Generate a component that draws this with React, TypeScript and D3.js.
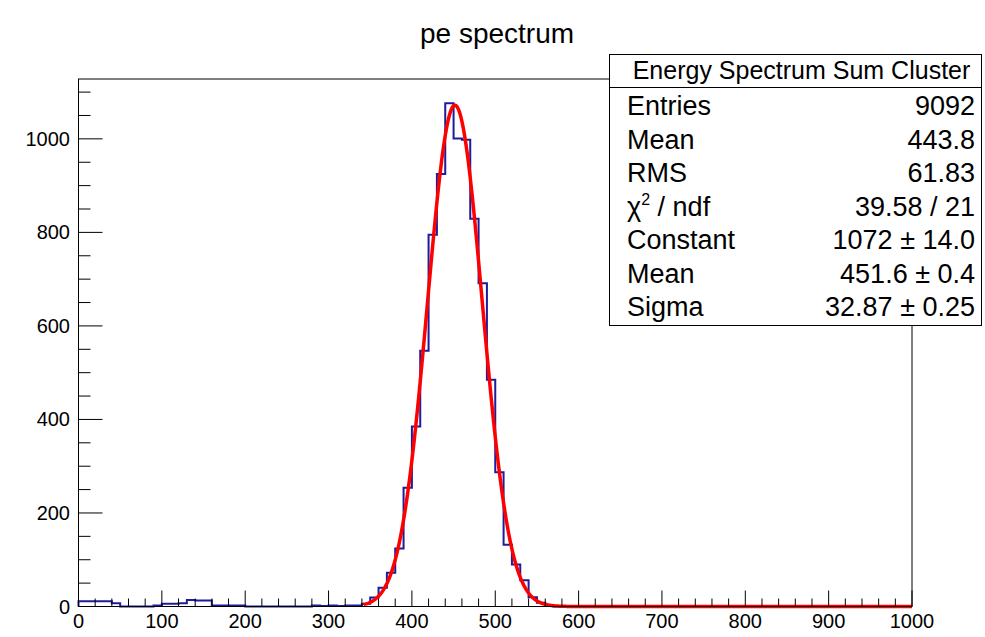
import React from "react";
import * as d3 from "d3";

// ---- data ----
const binWidth = 10;
// counts of 100 bins, 0..1000
const binCounts: number[] = [
  11, 11, 11, 11, 7, 0, 0, 0, 0, 2, // 0-100
  6, 6, 7, 14, 13, 13, 2, 2, 2, 2, // 100-200
  0, 0, 0, 0, 0, 0, 0, 0, 2, 1, // 200-300
  2, 1, 2, 2, 6, 19, 40, 72, 124, 254, // 300-400
  385, 547, 795, 925, 1076, 1001, 998, 829, 691, 485, // 400-500
  287, 132, 90, 56, 20, 8, 2, 0, 0, 0, // 500-600
  0, 0, 0, 0, 0, 0, 0, 0, 0, 0,
  0, 0, 0, 0, 0, 0, 0, 0, 0, 0,
  0, 0, 0, 0, 0, 0, 0, 0, 0, 0,
  0, 0, 0, 0, 0, 0, 0, 0, 0, 0,
];
const fitConstant = 1072;
const fitMean = 451.6;
const fitSigma = 32.87;
const fitRange = [342, 1000];

const xTicks = [0, 100, 200, 300, 400, 500, 600, 700, 800, 900, 1000];
const yTicks = [0, 200, 400, 600, 800, 1000];

const statsTitle = "Energy Spectrum Sum Cluster";
const statsLabels = ["Entries", "Mean", "RMS", "CHI", "Constant", "Mean", "Sigma"];
const statsValues = ["9092", "443.8", "61.83", "39.58 / 21", "1072 \u00b1 14.0", "451.6 \u00b1 0.4", "32.87 \u00b1 0.25"];

const W = 985;
const H = 637;
const L = 78.5, R = 912, T = 79, B = 606.5;

export default function App() {
  const x = d3.scaleLinear().domain([0, 1000]).range([L, R]);
  const y = d3.scaleLinear().domain([0, 1128]).range([B, T]);

  const pts: [number, number][] = [[0, 0]];
  binCounts.forEach((c, i) => {
    pts.push([i * binWidth, c]);
    pts.push([(i + 1) * binWidth, c]);
  });
  pts.push([1000, 0]);
  const histPath = d3.line<[number, number]>().x((d) => x(d[0])).y((d) => y(d[1]))(pts) || "";

  const fitPts: [number, number][] = d3.range(fitRange[0], fitRange[1] + 0.5, 1).map((v) => [
    v,
    fitConstant * Math.exp(-0.5 * Math.pow((v - fitMean) / fitSigma, 2)),
  ]);
  const fitLine = d3.line<[number, number]>().x((d) => x(d[0])).y((d) => y(d[1]))(fitPts) || "";

  const xMinor = d3.range(0, 1001, 20).filter((v) => v % 100 !== 0);
  const yMinor = d3.range(0, 1128, 50).filter((v) => v % 200 !== 0);

  const font = "'Liberation Sans', Arial, Helvetica, sans-serif";
  const bx0 = 609.5, bx1 = 981.5, by0 = 54.5, by1 = 325.5, bsep = 87.5;
  const rowBase = [115, 148.5, 182, 215.5, 249, 282.5, 316];

  return (
    <svg width={W} height={H} style={{ position: "absolute", left: 0, top: 0, background: "#fff" }} fontFamily={font}>
      <rect x={0} y={0} width={W} height={H} fill="#fff" />
      <text x={497} y={43} fontSize={28} textAnchor="middle" fill="#000">pe spectrum</text>

      <path d={histPath} fill="none" stroke="#1c1c9c" strokeWidth={2} />
      <path d={fitLine} fill="none" stroke="#ff0000" strokeWidth={3.5} strokeLinejoin="round" />

      {/* frame */}
      <rect x={L} y={T} width={R - L} height={B - T} fill="none" stroke="#000" strokeWidth={1} />

      {/* x axis ticks */}
      {xTicks.map((v) => (
        <g key={"xt" + v}>
          <line x1={x(v)} x2={x(v)} y1={B} y2={B - 16} stroke="#000" strokeWidth={1} />
          <text x={x(v)} y={628} fontSize={20} textAnchor="middle" fill="#000">{v}</text>
        </g>
      ))}
      {xMinor.map((v) => (
        <line key={"xm" + v} x1={x(v)} x2={x(v)} y1={B} y2={B - 8} stroke="#000" strokeWidth={1} />
      ))}
      {/* y axis ticks */}
      {yTicks.map((v) => (
        <g key={"yt" + v}>
          <line x1={L} x2={L + 24} y1={y(v)} y2={y(v)} stroke="#000" strokeWidth={1} />
          <text x={70} y={y(v) + 7} fontSize={20} textAnchor="end" fill="#000">{v}</text>
        </g>
      ))}
      {yMinor.map((v) => (
        <line key={"ym" + v} x1={L} x2={L + 12} y1={y(v)} y2={y(v)} stroke="#000" strokeWidth={1} />
      ))}

      {/* stats box */}
      <rect x={bx0} y={by0} width={bx1 - bx0} height={by1 - by0} fill="#fff" stroke="#000" strokeWidth={1} />
      <line x1={bx0} x2={bx1} y1={bsep} y2={bsep} stroke="#000" strokeWidth={1} />
      <text x={(bx0 + bx1) / 2 + 6} y={79} fontSize={25} textAnchor="middle" fill="#000">{statsTitle}</text>
      {statsLabels.map((lab, i) => (
        <g key={"s" + i}>
          {lab === "CHI" ? (
            <text x={627} y={rowBase[i]} fontSize={27} fill="#000">
              {"\u03c7"}
              <tspan fontSize={16} dy={-11}>2</tspan>
              <tspan dy={11}>{" / ndf"}</tspan>
            </text>
          ) : (
            <text x={627} y={rowBase[i]} fontSize={27} fill="#000">{lab}</text>
          )}
          <text x={975} y={rowBase[i]} fontSize={27} textAnchor="end" fill="#000">{statsValues[i]}</text>
        </g>
      ))}
    </svg>
  );
}
